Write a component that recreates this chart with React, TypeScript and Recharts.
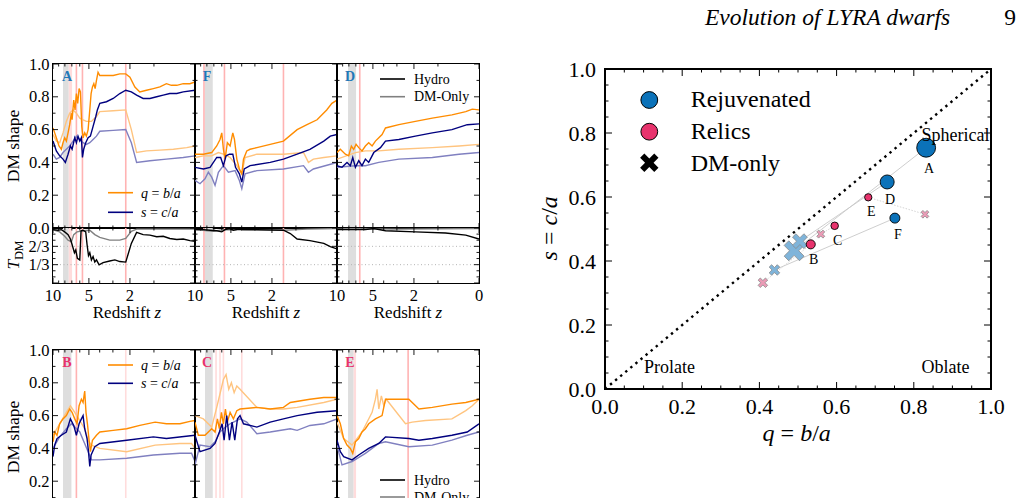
import React from "react";
import {
  LineChart,
  Line,
  XAxis,
  YAxis,
  ZAxis,
  ReferenceLine,
  ReferenceArea,
  ScatterChart,
  Scatter,
  LabelList,
} from "recharts";

const SERIF = "'Liberation Serif', 'Times New Roman', serif";

// colours
const ORANGE = "#ff8c00";
const ORANGE_LT = "#ffc47f";
const NAVY = "#00007f";
const NAVY_LT = "#8080c0";
const T_DMO = "#808080";
const PINK = "#ffb3b3";
const PINK_FAINT = "#ffdcdc";
const BAND = "#dedede";
const BLUE = "#0b72b9";
const RED = "#e8336d";

// ---------- redshift evolution, [z, value] ----------
// panel A (rejuvenated)
const aQHydro = [[10,0.61],[9.69,0.58],[9.4,0.55],[8.94,0.5],[8.55,0.48],[8.29,0.52],[8.03,0.55],[7.78,0.53],[7.53,0.58],[7.3,0.63],[7.06,0.7],[6.97,0.66],[6.75,0.78],[6.58,0.72],[6.41,0.82],[6.25,0.76],[6.08,0.85],[5.92,0.83],[5.77,0.62],[5.62,0.55],[5.44,0.58],[5.26,0.56],[5.08,0.6],[4.91,0.72],[4.78,0.82],[4.65,0.86],[4.52,0.88],[4.4,0.85],[4.28,0.9],[4.14,0.95],[3.99,0.93],[3.46,0.93],[2.98,0.93],[2.56,0.94],[2.22,0.94],[2.0,0.92],[1.76,0.86],[1.54,0.83],[1.27,0.84],[1.02,0.85],[0.81,0.86],[0.62,0.88],[0.49,0.87],[0.36,0.87],[0.22,0.88],[0.09,0.88],[0,0.89]];
const aQDmo = [[10,0.57],[9.4,0.53],[8.83,0.52],[8.29,0.58],[7.78,0.65],[7.3,0.7],[6.84,0.72],[6.41,0.7],[6.0,0.67],[5.62,0.66],[5.26,0.65],[4.75,0.65],[4.28,0.68],[3.99,0.71],[2.98,0.715],[2.22,0.72],[1.93,0.6],[1.68,0.46],[1.27,0.47],[0.81,0.475],[0.44,0.48],[0.15,0.49],[0,0.5]];
const aSHydro = [[10,0.53],[9.69,0.5],[9.4,0.47],[8.83,0.44],[8.29,0.42],[7.93,0.4],[7.53,0.45],[7.2,0.5],[6.97,0.48],[6.62,0.55],[6.41,0.52],[6.21,0.56],[6.0,0.53],[5.81,0.55],[5.69,0.43],[5.55,0.48],[5.33,0.52],[5.08,0.55],[4.85,0.56],[4.59,0.62],[4.34,0.68],[4.2,0.72],[3.99,0.76],[3.46,0.77],[2.98,0.79],[2.56,0.82],[2.22,0.84],[1.93,0.83],[1.68,0.81],[1.4,0.79],[1.14,0.79],[0.91,0.8],[0.71,0.81],[0.53,0.82],[0.36,0.82],[0.22,0.83],[0,0.84]];
const aSDmo = [[10,0.45],[9.4,0.42],[8.83,0.43],[8.29,0.46],[7.78,0.48],[7.3,0.5],[6.84,0.53],[6.41,0.56],[6.0,0.54],[5.62,0.52],[5.26,0.51],[4.91,0.52],[4.59,0.54],[4.28,0.56],[3.99,0.59],[2.98,0.595],[2.22,0.6],[1.93,0.52],[1.68,0.4],[1.14,0.41],[0.62,0.42],[0.22,0.43],[0,0.44]];
const aTHydro = [[10,0.97],[9.11,0.96],[8.55,0.97],[8.03,0.93],[7.53,0.88],[7.2,0.8],[6.97,0.7],[6.66,0.55],[6.49,0.6],[6.29,0.45],[6.0,0.42],[5.85,0.95],[5.62,0.96],[5.33,0.93],[5.19,0.7],[5.04,0.5],[4.91,0.55],[4.75,0.42],[4.59,0.48],[4.43,0.38],[4.28,0.42],[4.05,0.33],[3.72,0.37],[3.22,0.4],[2.87,0.42],[2.56,0.39],[2.22,0.38],[1.93,0.72],[1.68,0.92],[1.4,0.88],[1.14,0.87],[0.91,0.84],[0.71,0.85],[0.53,0.81],[0.36,0.79],[0.22,0.8],[0.09,0.77],[0,0.76]];
const aTDmo = [[10,0.97],[8.83,0.93],[8.03,0.85],[7.53,0.78],[7.06,0.75],[6.75,0.88],[6.33,0.93],[5.62,0.95],[4.91,0.96],[4.43,0.88],[3.99,0.83],[3.22,0.78],[2.56,0.78],[2.22,0.81],[1.93,0.94],[1.68,0.98],[0,0.98]];

// panel F
const fQHydro = [[10,0.45],[8.55,0.45],[7.3,0.46],[6.62,0.5],[6.21,0.54],[6.0,0.58],[5.81,0.48],[5.62,0.42],[5.37,0.52],[5.08,0.5],[4.81,0.58],[4.65,0.54],[4.43,0.42],[4.2,0.36],[3.99,0.33],[3.85,0.42],[3.59,0.47],[3.34,0.48],[2.87,0.49],[2.09,0.51],[1.47,0.53],[0.96,0.6],[0.66,0.63],[0.4,0.66],[0.19,0.72],[0.09,0.76],[0,0.78]];
const fQDmo = [[10,0.43],[8.55,0.44],[7.3,0.44],[6.41,0.46],[5.81,0.45],[5.08,0.43],[4.43,0.38],[3.99,0.33],[3.72,0.43],[2.87,0.45],[1.47,0.45],[0.76,0.46],[0.62,0.4],[0.49,0.42],[0.25,0.43],[0,0.44]];
const fSHydro = [[10,0.37],[8.55,0.36],[7.53,0.37],[6.62,0.43],[6.13,0.43],[5.81,0.38],[5.51,0.44],[5.15,0.45],[4.81,0.45],[4.55,0.37],[4.2,0.33],[3.99,0.28],[3.79,0.36],[3.34,0.38],[2.09,0.4],[1.47,0.42],[0.96,0.45],[0.58,0.48],[0.25,0.53],[0.12,0.56],[0,0.57]];
const fSDmo = [[10,0.29],[9.11,0.27],[8.29,0.3],[7.78,0.34],[7.3,0.31],[6.84,0.26],[6.41,0.34],[5.81,0.38],[5.26,0.34],[4.59,0.35],[4.2,0.29],[3.99,0.24],[3.72,0.33],[2.87,0.35],[1.47,0.36],[0.76,0.38],[0.62,0.34],[0.49,0.36],[0,0.4]];
const fTHydro = [[10,0.97],[8.55,0.97],[7.53,0.96],[6.62,0.95],[6.0,0.93],[5.62,0.97],[5.15,0.99],[4.75,0.96],[4.28,0.98],[3.85,0.97],[2.87,0.97],[1.47,0.96],[1.2,0.9],[0.96,0.8],[0.58,0.77],[0.25,0.72],[0.12,0.66],[0,0.62]];
const fTDmo = [[10,0.97],[7.06,0.94],[5.81,0.97],[1.47,0.96],[0.66,0.98],[0,0.99]];

// panel D
const dQHydro = [[10,0.46],[9.4,0.48],[8.55,0.45],[8.03,0.44],[7.63,0.5],[7.3,0.48],[6.97,0.51],[6.62,0.49],[6.21,0.47],[5.81,0.5],[5.44,0.52],[5.08,0.5],[4.75,0.53],[4.43,0.55],[4.14,0.57],[3.85,0.61],[2.87,0.63],[1.93,0.65],[1.2,0.67],[0.58,0.69],[0.25,0.71],[0.12,0.725],[0,0.72]];
const dQDmo = [[10,0.42],[7.06,0.46],[5.81,0.47],[4.43,0.47],[2.87,0.48],[1.2,0.49],[0.4,0.5],[0,0.51]];
const dSHydro = [[10,0.38],[9.11,0.37],[8.29,0.4],[7.78,0.38],[7.43,0.43],[7.06,0.37],[6.62,0.41],[6.21,0.38],[5.81,0.42],[5.44,0.4],[4.91,0.46],[4.28,0.49],[3.85,0.53],[2.87,0.54],[1.93,0.56],[1.2,0.58],[0.58,0.6],[0.22,0.63],[0,0.635]];
const dSDmo = [[10,0.37],[7.06,0.38],[5.81,0.38],[4.43,0.4],[2.87,0.42],[1.2,0.43],[0.4,0.45],[0,0.46]];
const dTHydro = [[10,0.97],[7.53,0.97],[5.81,0.97],[4.91,0.99],[3.85,0.95],[1.93,0.93],[0.76,0.91],[0.25,0.87],[0,0.8]];
const dTDmo = [[10,0.99],[2.87,0.98],[0,0.99]];

// panel B (relic)
const bQHydro = [[10,0.44],[9.69,0.5],[9.28,0.48],[8.83,0.55],[8.29,0.58],[7.78,0.6],[7.3,0.64],[6.97,0.62],[6.62,0.58],[6.33,0.55],[6.08,0.66],[5.81,0.7],[5.62,0.68],[5.44,0.75],[5.3,0.62],[5.15,0.55],[4.98,0.45],[4.85,0.38],[4.65,0.45],[4.28,0.48],[3.99,0.5],[2.98,0.51],[2.17,0.52],[1.54,0.54],[0.96,0.56],[0.62,0.55],[0.29,0.55],[0.09,0.565],[0,0.57]];
const bQDmo = [[10,0.48],[8.83,0.55],[7.78,0.62],[7.2,0.66],[6.62,0.62],[6.0,0.57],[5.44,0.52],[5.08,0.45],[4.75,0.42],[3.99,0.4],[2.17,0.38],[0.96,0.42],[0.29,0.43],[0.06,0.43],[0,0.4]];
const bSHydro = [[10,0.35],[9.69,0.42],[9.28,0.46],[8.55,0.48],[7.78,0.5],[7.2,0.58],[6.75,0.54],[6.41,0.48],[6.08,0.55],[5.81,0.58],[5.62,0.6],[5.44,0.52],[5.19,0.46],[5.04,0.38],[4.91,0.29],[4.78,0.36],[4.43,0.41],[3.99,0.43],[2.17,0.45],[1.02,0.47],[0.62,0.46],[0,0.48]];
const bSDmo = [[10,0.4],[8.83,0.47],[7.78,0.52],[7.06,0.55],[6.0,0.5],[5.08,0.38],[4.75,0.33],[3.99,0.33],[2.17,0.34],[1.02,0.36],[0.29,0.37],[0.06,0.37],[0,0.32]];

// panel C
const cQHydro = [[10,0.56],[9.4,0.48],[8.29,0.48],[7.3,0.52],[6.84,0.5],[6.53,0.58],[6.29,0.52],[6.04,0.62],[5.81,0.55],[5.58,0.64],[5.37,0.56],[5.08,0.62],[4.75,0.58],[4.43,0.63],[4.14,0.64],[2.87,0.65],[2.09,0.64],[1.47,0.65],[1.2,0.68],[0.58,0.7],[0.25,0.71],[0,0.71]];
const cQDmo = [[10,0.6],[8.55,0.58],[7.3,0.53],[6.62,0.65],[6.13,0.75],[5.81,0.82],[5.51,0.85],[5.22,0.76],[4.95,0.8],[4.68,0.74],[4.43,0.78],[4.14,0.76],[2.87,0.65],[2.09,0.64],[1.47,0.64],[0.96,0.65],[0.25,0.68],[0,0.7]];
const cSHydro = [[10,0.48],[9.11,0.38],[7.53,0.4],[6.84,0.43],[6.29,0.5],[5.96,0.55],[5.73,0.45],[5.44,0.6],[5.15,0.45],[4.88,0.56],[4.62,0.45],[4.37,0.58],[4.14,0.6],[3.85,0.55],[2.87,0.53],[2.09,0.56],[1.47,0.58],[0.96,0.6],[0.4,0.62],[0,0.63]];
const cSDmo = [[10,0.3],[9.11,0.42],[7.53,0.41],[6.84,0.44],[6.21,0.5],[5.81,0.52],[5.08,0.55],[4.14,0.58],[3.59,0.56],[2.87,0.49],[2.09,0.5],[1.2,0.52],[0.96,0.51],[0.58,0.54],[0.25,0.55],[0,0.58]];

// panel E
const eQHydro = [[10,0.6],[9.4,0.55],[8.83,0.46],[8.29,0.42],[7.78,0.4],[7.43,0.37],[7.06,0.44],[6.62,0.46],[6.21,0.5],[5.81,0.52],[5.44,0.55],[4.75,0.58],[4.14,0.6],[3.85,0.7],[2.27,0.7],[1.76,0.64],[1.2,0.65],[0.58,0.67],[0.25,0.68],[0,0.7]];
const eQDmo = [[10,0.56],[8.83,0.46],[7.53,0.42],[6.21,0.5],[5.08,0.62],[4.75,0.7],[4.59,0.76],[4.43,0.64],[4.2,0.72],[3.99,0.66],[3.79,0.7],[2.46,0.55],[2.09,0.56],[1.47,0.57],[0.58,0.58],[0.25,0.63],[0.12,0.66],[0,0.7]];
const eSHydro = [[10,0.45],[9.4,0.38],[8.83,0.35],[7.53,0.33],[6.62,0.36],[5.44,0.4],[4.43,0.43],[3.85,0.47],[2.27,0.46],[1.76,0.45],[1.2,0.46],[0.58,0.48],[0.22,0.5],[0,0.55]];
const eSDmo = [[10,0.42],[9.11,0.3],[7.53,0.32],[5.81,0.37],[4.43,0.43],[3.85,0.44],[2.27,0.41],[1.2,0.42],[0.58,0.45],[0.22,0.48],[0,0.5]];

// merger / event markers (redshift)
const aBands = [{ z1: 8.29, z2: 7.43, color: BAND }, { z1: 7.43, z2: 6.97, color: PINK_FAINT }];
const aEvents = [{ z: 6.41, color: PINK }, { z: 5.69, color: PINK }, { z: 2.22, color: PINK }];
const fBands = [{ z1: 8.29, z2: 7.15, color: BAND }];
const fEvents = [{ z: 8.45, color: PINK }, { z: 5.69, color: PINK }, { z: 1.47, color: PINK }];
const dBands = [{ z1: 8.13, z2: 6.97, color: BAND }];
const dEvents = [{ z: 6.49, color: PINK }];
const bBands = [{ z1: 8.29, z2: 7.06, color: BAND }];
const bEvents = [{ z: 6.41, color: PINK }, { z: 2.22, color: PINK_FAINT }];
const cBands = [{ z1: 8.29, z2: 7.15, color: BAND }];
const cEvents = [{ z: 6.71, color: PINK_FAINT }, { z: 6.21, color: PINK_FAINT }, { z: 5.81, color: PINK_FAINT }, { z: 3.99, color: PINK_FAINT }];
const eBands = [{ z1: 8.13, z2: 7.3, color: BAND }, { z1: 7.3, z2: 6.97, color: PINK_FAINT }];
const eEvents = [{ z: 2.31, color: PINK }];

// ---------- z = 0 shapes ----------
const rejuvName = ["A", "D", "F"];
const rejuvQ = [0.832, 0.731, 0.751];
const rejuvS = [0.754, 0.647, 0.534];
const rejuvWeight = [1.0, 0.55, 0.28];
const relicName = ["B", "C", "E"];
const relicQ = [0.533, 0.595, 0.682];
const relicS = [0.452, 0.51, 0.599];
const relicWeight = [0.23, 0.16, 0.15];
const dmoRejuvQ = [0.49, 0.505, 0.439];
const dmoRejuvS = [0.432, 0.462, 0.372];
const dmoRelicQ = [0.409, 0.559, 0.829];
const dmoRelicS = [0.332, 0.484, 0.546];

const zMajor = [10, 5, 2, 0];
const zMinor = [9, 8, 7, 6, 4, 3, 1];
const shapeMajor = [0, 0.2, 0.4, 0.6, 0.8, 1];
const shapeMinor = [0.1, 0.3, 0.5, 0.7, 0.9];
const triMajor = [0, 1 / 3, 2 / 3, 1];
const triMinor = [1 / 9, 2 / 9, 4 / 9, 5 / 9, 7 / 9, 8 / 9];
const scatMajor = [0, 0.2, 0.4, 0.6, 0.8, 1];
const scatMinor = [0.05, 0.1, 0.15, 0.25, 0.3, 0.35, 0.45, 0.5, 0.55, 0.65, 0.7, 0.75, 0.85, 0.9, 0.95];

const lz = (z: number) => Math.log10(1 + z);
const X_END = lz(10);
const toPts = (arr: number[][]) => arr.map(([z, v]) => ({ x: lz(z), v }));

const ML = 52, MR = 14, MT = 10, MB = 34;

function Panel(props: any) {
  const { left, top, w, h, yMajor, yMinor, yLab, xLab, hideZero, lines, bands, events, hdots } = props;
  const xt = [...zMajor, ...zMinor].map(lz);

  const xTick = (p: any) => {
    const { x, y, payload } = p;
    const z = Math.round(Math.pow(10, payload.value) - 1);
    const major = zMajor.includes(z);
    const len = major ? 5 : 2.5;
    const show = xLab && major && !(hideZero && z === 0);
    return (
      <g>
        <line x1={x} x2={x} y1={y} y2={y - len} stroke="#000" strokeWidth={0.9} />
        <line x1={x} x2={x} y1={y - h} y2={y - h + len} stroke="#000" strokeWidth={0.9} />
        {show && (
          <text x={x} y={y + 18} textAnchor="middle" fontSize={16.5} fontFamily={SERIF} fill="#000">
            {z}
          </text>
        )}
      </g>
    );
  };

  const yTick = (p: any) => {
    const { x, y, payload } = p;
    const v = payload.value;
    const major = yMajor.includes(v);
    const len = major ? 5 : 2.5;
    const lab = yLab ? yLab(v) : null;
    return (
      <g>
        <line x1={x} x2={x + len} y1={y} y2={y} stroke="#000" strokeWidth={0.9} />
        <line x1={x + w} x2={x + w - len} y1={y} y2={y} stroke="#000" strokeWidth={0.9} />
        {lab && (
          <text x={x - 3.5} y={y + 5.5} textAnchor="end" fontSize={16.5} fontFamily={SERIF} fill="#000">
            {lab}
          </text>
        )}
      </g>
    );
  };

  return (
    <div style={{ position: "absolute", left: left - ML, top: top - MT }}>
      <LineChart width={w + ML + MR} height={h + MT + MB} margin={{ top: MT, right: MR, bottom: MB - 1, left: ML - 1 }}>
        <XAxis type="number" dataKey="x" domain={[0, X_END]} reversed ticks={xt} interval={0} height={1}
          tickSize={0} tickMargin={0} tickLine={false} axisLine={false} tick={xTick} allowDataOverflow />
        <YAxis type="number" domain={[0, 1]} ticks={[...yMajor, ...yMinor]} interval={0} width={1}
          tickSize={0} tickMargin={0} tickLine={false} axisLine={false} tick={yTick} allowDataOverflow />
        {bands.map((b: any, i: number) => (
          <ReferenceArea key={"b" + i} x1={lz(b.z1)} x2={lz(b.z2)} fill={b.color} fillOpacity={1} stroke="none" />
        ))}
        {events.map((e: any, i: number) => (
          <ReferenceLine key={"e" + i} x={lz(e.z)} stroke={e.color} strokeWidth={1.6} />
        ))}
        {(hdots || []).map((y: number, i: number) => (
          <ReferenceLine key={"h" + i} y={y} stroke="#b5b5b5" strokeWidth={1} strokeDasharray="1 2.5" />
        ))}
        {lines.map((s: any, i: number) => (
          <Line key={i} data={toPts(s.pts)} dataKey="v" type="linear" dot={false} stroke={s.color}
            strokeWidth={1.4} isAnimationActive={false} />
        ))}
      </LineChart>
      <div style={{ position: "absolute", left: ML - 0.7, top: MT - 0.7, width: w + 1.4, height: h + 1.4,
        border: "1.4px solid #000", boxSizing: "border-box", pointerEvents: "none" }} />
    </div>
  );
}

const fmt1 = (v: number) => (shapeMajor.includes(v) ? v.toFixed(1) : null);
const fmtT = (v: number) => (v === 2 / 3 ? "2/3" : v === 1 / 3 ? "1/3" : null);

const shapeLines = (qh: number[][], sh: number[][], qd: number[][], sd: number[][]) => [
  { pts: qd, color: ORANGE_LT },
  { pts: sd, color: NAVY_LT },
  { pts: qh, color: ORANGE },
  { pts: sh, color: NAVY },
];
const triLines = (th: number[][], td: number[][]) => [
  { pts: td, color: T_DMO },
  { pts: th, color: "#000" },
];

function xPath(cx: number, cy: number, r: number) {
  const a = r * 0.3;
  const pts = [[a, r], [a, a], [r, a], [r, -a], [a, -a], [a, -r], [-a, -r], [-a, -a], [-r, -a], [-r, a], [-a, a], [-a, r]];
  const c = Math.SQRT1_2;
  return pts
    .map(([x, y], i) => `${i ? "L" : "M"}${(cx + (x - y) * c).toFixed(2)},${(cy + (x + y) * c).toFixed(2)}`)
    .join("") + "Z";
}

const crossShape = (fill: string) => (p: any) => {
  const rad = p.width ? p.width / 2 : Math.sqrt((p.size || 64) / Math.PI);
  return <path d={xPath(p.cx, p.cy, rad * 1.15)} fill={fill} stroke="#8a8a8a" strokeWidth={0.8} />;
};

const ptLabel = (p: any) => {
  const vb = p.viewBox && p.viewBox.width !== undefined ? p.viewBox : p;
  const cx = vb.x + vb.width / 2;
  const by = vb.y + vb.height;
  return (
    <text x={cx + 3} y={by + 15.5} textAnchor="middle" fontSize={14} fontFamily={SERIF} fill="#000">
      {p.value}
    </text>
  );
};

const RL = 605, RT = 69, RW = 386, RH = 320;
const RML = 80, RMR = 22, RMT = 14, RMB = 36;

function ShapePlane() {
  const rejuv = rejuvQ.map((q, i) => ({ q, s: rejuvS[i], w: rejuvWeight[i], name: rejuvName[i] }));
  const relic = relicQ.map((q, i) => ({ q, s: relicS[i], w: relicWeight[i], name: relicName[i] }));
  const dmoRejuv = dmoRejuvQ.map((q, i) => ({ q, s: dmoRejuvS[i], w: rejuvWeight[i] }));
  const dmoRelic = dmoRelicQ.map((q, i) => ({ q, s: dmoRelicS[i], w: relicWeight[i] }));

  const qTick = (p: any) => {
    const { x, y, payload } = p;
    const v = payload.value;
    const major = scatMajor.includes(v);
    const len = major ? 7 : 3.5;
    return (
      <g>
        <line x1={x} x2={x} y1={y} y2={y - len} stroke="#000" strokeWidth={1} />
        <line x1={x} x2={x} y1={y - RH} y2={y - RH + len} stroke="#000" strokeWidth={1} />
        {major && (
          <text x={x} y={y + 25} textAnchor="middle" fontSize={22} fontFamily={SERIF} fill="#000">
            {v.toFixed(1)}
          </text>
        )}
      </g>
    );
  };
  const sTick = (p: any) => {
    const { x, y, payload } = p;
    const v = payload.value;
    const major = scatMajor.includes(v);
    const len = major ? 7 : 3.5;
    return (
      <g>
        <line x1={x} x2={x + len} y1={y} y2={y} stroke="#000" strokeWidth={1} />
        <line x1={x + RW} x2={x + RW - len} y1={y} y2={y} stroke="#000" strokeWidth={1} />
        {major && (
          <text x={x - 9} y={y + 7.5} textAnchor="end" fontSize={22} fontFamily={SERIF} fill="#000">
            {v.toFixed(1)}
          </text>
        )}
      </g>
    );
  };

  return (
    <div style={{ position: "absolute", left: RL - RML, top: RT - RMT }}>
      <ScatterChart width={RW + RML + RMR} height={RH + RMT + RMB} margin={{ top: RMT, right: RMR, bottom: RMB - 1, left: RML - 1 }}>
        <XAxis type="number" dataKey="q" domain={[0, 1]} ticks={[...scatMajor, ...scatMinor]} interval={0} height={1}
          tickSize={0} tickMargin={0} tickLine={false} axisLine={false} tick={qTick} />
        <YAxis type="number" dataKey="s" domain={[0, 1]} ticks={[...scatMajor, ...scatMinor]} interval={0} width={1}
          tickSize={0} tickMargin={0} tickLine={false} axisLine={false} tick={sTick} />
        <ZAxis type="number" dataKey="w" domain={[0, 1.2]} range={[0, 336]} />
        <ReferenceLine segment={[{ x: 0, y: 0 }, { x: 1, y: 1 }]} stroke="#000" strokeWidth={2.4} strokeDasharray="2.4 4.2" />
        {rejuv.map((r, i) => (
          <ReferenceLine key={"lr" + i} segment={[{ x: r.q, y: r.s }, { x: dmoRejuv[i].q, y: dmoRejuv[i].s }]}
            stroke="#c8c8c8" strokeWidth={0.9} />
        ))}
        {relic.map((r, i) => (
          <ReferenceLine key={"ll" + i} segment={[{ x: r.q, y: r.s }, { x: dmoRelic[i].q, y: dmoRelic[i].s }]}
            stroke="#cfcfcf" strokeWidth={0.9} strokeDasharray="1.5 1.5" />
        ))}
        <Scatter data={dmoRejuv} shape={crossShape("#7fb4da")} isAnimationActive={false} />
        <Scatter data={dmoRelic} shape={crossShape("#eb9bb6")} isAnimationActive={false} />
        <Scatter data={rejuv} shape="circle" fill={BLUE} stroke="#000" strokeWidth={0.9} isAnimationActive={false}>
          <LabelList dataKey="name" content={ptLabel} />
        </Scatter>
        <Scatter data={relic} shape="circle" fill={RED} stroke="#000" strokeWidth={0.9} isAnimationActive={false}>
          <LabelList dataKey="name" content={ptLabel} />
        </Scatter>
      </ScatterChart>
      <div style={{ position: "absolute", left: RML - 1, top: RMT - 1, width: RW + 2, height: RH + 2,
        border: "2px solid #000", boxSizing: "border-box", pointerEvents: "none" }} />
    </div>
  );
}

function Overlay() {
  const f = { fontFamily: SERIF, fill: "#000" };
  const leg = (x: number, y: number, color: string) => (
    <line x1={x} x2={x + 25} y1={y} y2={y} stroke={color} strokeWidth={1.6} />
  );
  const ratio = (a: string, b: string, c: string, size: number, x: number, y: number, extra: any = {}) => (
    <text {...f} x={x} y={y} fontSize={size} {...extra}>
      <tspan fontStyle="italic">{a}</tspan> = <tspan fontStyle="italic">{b}</tspan>/<tspan fontStyle="italic">{c}</tspan>
    </text>
  );
  return (
    <svg width={1019} height={498} style={{ position: "absolute", left: 0, top: 0, pointerEvents: "none" }}>
      <defs>
        <clipPath id="rclip">
          <rect x={RL} y={RT} width={RW} height={RH} />
        </clipPath>
      </defs>
      {/* running head */}
      <text {...f} x={705} y={25} fontSize={23.5} fontStyle="italic">Evolution of LYRA dwarfs</text>
      <text {...f} x={1010} y={25} fontSize={23.5} textAnchor="middle">9</text>

      {/* left column axis titles */}
      <text {...f} x={19} y={146} fontSize={17.5} textAnchor="middle" transform="rotate(-90 19 146)">DM shape</text>
      <text {...f} x={19} y={437} fontSize={17.5} textAnchor="middle" transform="rotate(-90 19 437)">DM shape</text>
      <text {...f} x={19} y={255} fontSize={17.5} textAnchor="middle" transform="rotate(-90 19 255)">
        <tspan fontStyle="italic">T</tspan>
        <tspan fontSize={12} dy={4}>DM</tspan>
      </text>
      {[127, 266, 408].map((cx) => (
        <text {...f} key={cx} x={cx} y={318} fontSize={17} textAnchor="middle">
          Redshift <tspan fontStyle="italic">z</tspan>
        </text>
      ))}

      {/* panel letters */}
      <text {...f} x={67} y={81} fontSize={14} fontWeight="bold" fill="#1f78b8" textAnchor="middle">A</text>
      <text {...f} x={207} y={81} fontSize={14} fontWeight="bold" fill="#1f78b8" textAnchor="middle">F</text>
      <text {...f} x={350} y={81} fontSize={14} fontWeight="bold" fill="#1f78b8" textAnchor="middle">D</text>
      <text {...f} x={67} y={367} fontSize={14} fontWeight="bold" fill={RED} textAnchor="middle">B</text>
      <text {...f} x={207} y={367} fontSize={14} fontWeight="bold" fill={RED} textAnchor="middle">C</text>
      <text {...f} x={350} y={367} fontSize={14} fontWeight="bold" fill={RED} textAnchor="middle">E</text>

      {/* panel legends */}
      {leg(108, 192.7, ORANGE)}
      {leg(108, 212.3, NAVY)}
      {ratio("q", "b", "a", 14, 141, 197.5)}
      {ratio("s", "c", "a", 14, 141, 217)}
      {leg(108, 365, ORANGE)}
      {leg(108, 383.3, NAVY)}
      {ratio("q", "b", "a", 14, 141, 369.8)}
      {ratio("s", "c", "a", 14, 141, 388)}
      {leg(380, 79, "#000")}
      {leg(380, 96.7, T_DMO)}
      <text {...f} x={414} y={83.5} fontSize={14}>Hydro</text>
      <text {...f} x={414} y={101} fontSize={14}>DM-Only</text>
      {leg(380, 480, "#000")}
      {leg(380, 497, T_DMO)}
      <text {...f} x={414} y={484.5} fontSize={14}>Hydro</text>
      <text {...f} x={414} y={501.5} fontSize={14}>DM-Only</text>

      {/* right panel legend */}
      <circle cx={649.3} cy={100} r={8.4} fill={BLUE} stroke="#000" strokeWidth={1} />
      <circle cx={649.3} cy={131.7} r={8.4} fill={RED} stroke="#000" strokeWidth={1} />
      <path d={xPath(649.3, 162.7, 10)} fill="#000" />
      <text {...f} x={690.7} y={106.7} fontSize={24}>Rejuvenated</text>
      <text {...f} x={690.7} y={138.7} fontSize={24}>Relics</text>
      <text {...f} x={690.7} y={170.5} fontSize={24}>DM-only</text>

      {/* right panel annotations */}
      <g clipPath="url(#rclip)">
        <text {...f} x={921.5} y={140.5} fontSize={18}>Spherical</text>
      </g>
      <text {...f} x={644} y={373} fontSize={18}>Prolate</text>
      <text {...f} x={921.5} y={373} fontSize={18}>Oblate</text>
      {ratio("q", "b", "a", 24, 796.7, 441, { textAnchor: "middle" })}
      {ratio("s", "c", "a", 24, 557, 228.3, { textAnchor: "middle", transform: "rotate(-90 557 228.3)" })}
    </svg>
  );
}

export default function App() {
  const up = { w: 142, h: 164, yMajor: shapeMajor, yMinor: shapeMinor };
  const lo = { w: 142, h: 55, yMajor: triMajor, yMinor: triMinor, hdots: [1 / 3, 2 / 3], xLab: true };
  return (
    <div style={{ position: "fixed", left: 0, top: 0, width: 1019, height: 498, overflow: "hidden", background: "#fff" }}>
      {/* top row: rejuvenated */}
      <Panel {...up} left={53} top={64} yLab={fmt1} lines={shapeLines(aQHydro, aSHydro, aQDmo, aSDmo)} bands={aBands} events={aEvents} />
      <Panel {...up} left={195} top={64} lines={shapeLines(fQHydro, fSHydro, fQDmo, fSDmo)} bands={fBands} events={fEvents} />
      <Panel {...up} left={337} top={64} lines={shapeLines(dQHydro, dSHydro, dQDmo, dSDmo)} bands={dBands} events={dEvents} />
      <Panel {...lo} left={53} top={228} yLab={fmtT} hideZero lines={triLines(aTHydro, aTDmo)} bands={aBands} events={aEvents} />
      <Panel {...lo} left={195} top={228} hideZero lines={triLines(fTHydro, fTDmo)} bands={fBands} events={fEvents} />
      <Panel {...lo} left={337} top={228} lines={triLines(dTHydro, dTDmo)} bands={dBands} events={dEvents} />
      {/* bottom row: relics */}
      <Panel {...up} left={53} top={350} yLab={fmt1} lines={shapeLines(bQHydro, bSHydro, bQDmo, bSDmo)} bands={bBands} events={bEvents} />
      <Panel {...up} left={195} top={350} lines={shapeLines(cQHydro, cSHydro, cQDmo, cSDmo)} bands={cBands} events={cEvents} />
      <Panel {...up} left={337} top={350} lines={shapeLines(eQHydro, eSHydro, eQDmo, eSDmo)} bands={eBands} events={eEvents} />
      <ShapePlane />
      <Overlay />
    </div>
  );
}
